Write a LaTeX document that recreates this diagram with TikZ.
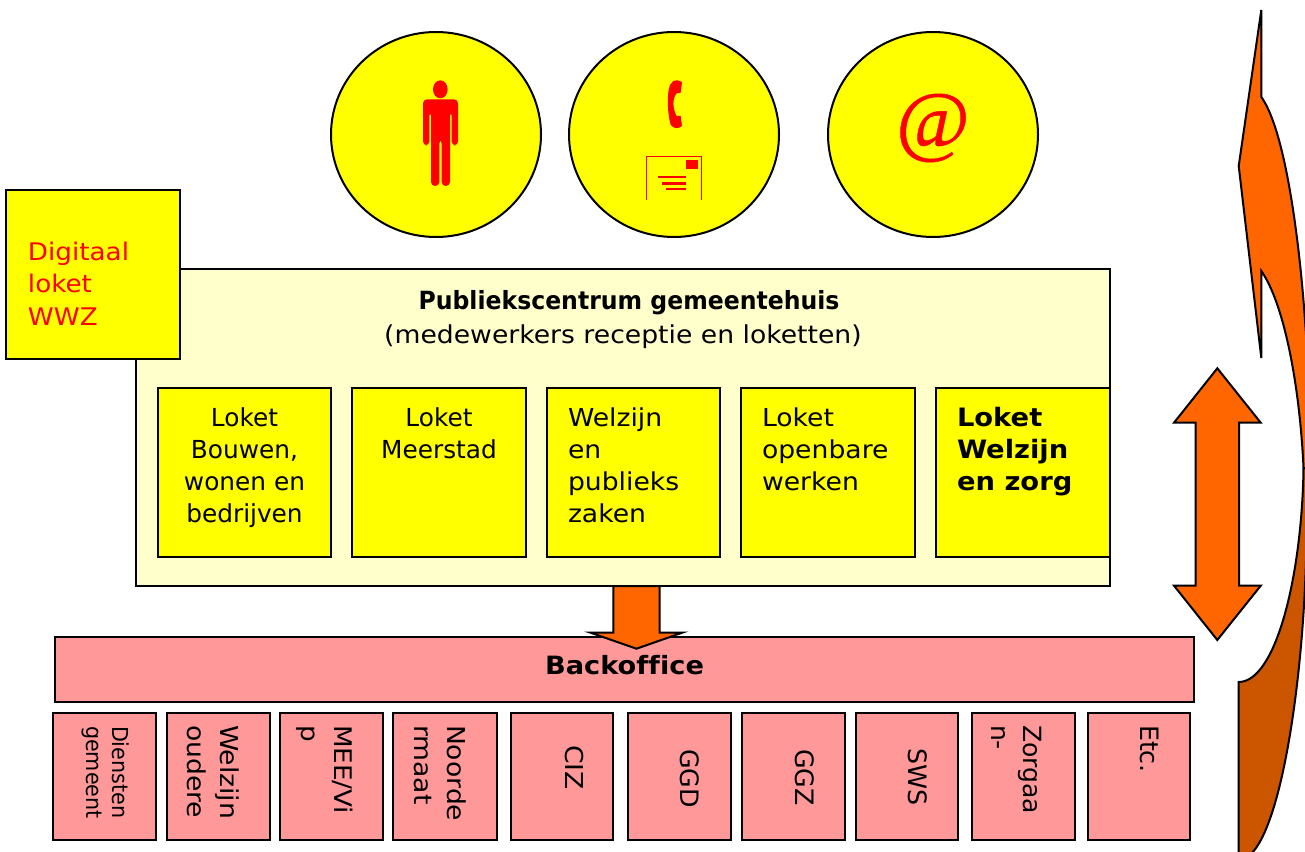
\documentclass[tikz,border=0pt]{standalone}
\usepackage{fontspec}
\setmainfont[FakeStretch=1.08,Ligatures=NoCommon]{DejaVu Sans}
\newfontfamily\nar[Ligatures=NoCommon]{DejaVu Sans}
\newfontfamily\cnd[FakeStretch=0.94,Ligatures=NoCommon]{DejaVu Sans}
\newfontfamily\serifat[FakeBold=0.6]{Liberation Serif}
\usetikzlibrary{shapes.geometric}
\definecolor{orng}{HTML}{FF6600}
\definecolor{dorng}{HTML}{CC5500}
\definecolor{pinkb}{HTML}{FF9999}
\definecolor{creamb}{HTML}{FFFFCC}
\definecolor{yelb}{HTML}{FFFF00}
\tikzset{
  line/.style={draw=black,line width=1.5pt},
  boxn/.style={line,rectangle,inner sep=0pt,outer sep=0pt,anchor=center},
  yb/.style={boxn,fill=yelb},
  pb/.style={boxn,fill=pinkb},
  cb/.style={boxn,fill=creamb},
  circ/.style={line,ellipse,fill=yelb,inner sep=0pt,minimum width=157.5pt,minimum height=153.75pt},
  block/.style={line,fill=orng,line join=miter},
}
\newcommand\fnt[2]{\fontsize{#1}{#2}\selectfont}
\newcommand\lf[1]{\raggedright\leftskip=\dimexpr#1pt*3/4\relax}
\newcommand\ce{\centering}
% #1 style #2 name #3 x1 #4 y1 #5 x2 #6 y2 #7 setup #8 first baseline px #9 text
\newcommand\tbox[9]{%
  \pgfmathsetlengthmacro{\bw}{(#5-#3)*0.75pt}%
  \pgfmathsetlengthmacro{\bh}{(#6-#4)*0.75pt}%
  \pgfmathsetmacro{\cx}{(#3+#5)/2}%
  \pgfmathsetmacro{\cy}{(#4+#6)/2}%
  \node[#1] (#2) at (\cx,\cy) {\parbox[c][\bh][t]{\bw}{#7\vspace*{\dimexpr#8pt*3/4-\ht\strutbox\relax}\strut #9\par}};%
}
\newcommand\rbox[9]{%
  \pgfmathsetlengthmacro{\bw}{(#6-#4)*0.75pt}%
  \pgfmathsetlengthmacro{\bh}{(#5-#3)*0.75pt}%
  \pgfmathsetmacro{\cx}{(#3+#5)/2}%
  \pgfmathsetmacro{\cy}{(#4+#6)/2}%
  \node[#1,rotate=-90] (#2) at (\cx,\cy) {\parbox[c][\bh][t]{\bw}{#7\vspace*{\dimexpr#8pt*3/4-\ht\strutbox\relax}\strut #9\par}};%
}
\begin{document}
\begin{tikzpicture}[x=0.75pt,y=-0.75pt]
\useasboundingbox (0,0) rectangle (1305,852);
\begin{scope}
\clip (0,0) rectangle (1305,852);
% curved arrow
\path[line,fill=dorng] (1238.7,870) -- (1238.7,682) .. controls (1276,682) and (1302,575) .. (1303.5,468) -- (1312,468) -- (1312,560) -- (1306,560) .. controls (1302,700) and (1276,860) .. (1238.7,860) -- cycle;
\path[line,fill=orng,line join=miter] (1261.3,10) -- (1261.3,97) .. controls (1285,130) and (1300,240) .. (1306,335) -- (1312,335) -- (1312,468) -- (1303.5,468) .. controls (1300,390) and (1285,305) .. (1261.3,271) -- (1261.3,358) -- (1238.7,166) -- cycle;
\end{scope}
% circles
\node[circ] (c1) at (436,134.5) {};
\node[circ] (c2) at (674,134.5) {};
\node[circ] (c3) at (933,134.5) {};
% person
\begin{scope}[shift={(330,30)},x=0.25pt,y=-0.25pt]
\fill[red] (331,178) ellipse (22 and 27);
\fill[red,rounded corners=3pt] (279,346) -- (279,208) -- (384,208) -- (384,346) -- (365,346) -- (365,245) -- (360,245) -- (360,468) -- (335,468) -- (335,328) -- (328,328) -- (328,468) -- (303,468) -- (303,245) -- (298,245) -- (298,346) -- cycle;
% phone
\fill[red] (1030,153) .. controls (1040,150) and (1050,151) .. (1056,156) -- (1052,188) .. controls (1048,190) and (1044,190) .. (1040,190) .. controls (1027,205) and (1027,235) .. (1040,258) -- (1052,258) -- (1056,288) .. controls (1048,296) and (1032,298) .. (1022,285) .. controls (1012,250) and (1010,190) .. (1020,165) -- cycle;
% envelope
\draw[red,line width=1.2pt] (949,509) -- (949,380) -- (1115,380) -- (1115,509);
\fill[red] (1068,390) rectangle (1104,417);
\fill[red] (984,437) rectangle (1068,445);
\fill[red] (996,456) rectangle (1068,464);
\fill[red] (1007,473) rectangle (1068,481);
\end{scope}
\node[text=red,inner sep=0pt,font=\serifat\fontsize{60}{60}\selectfont] (atsign) at (933,128) {@};
% publiekscentrum
\tbox{cb}{pub}{136}{269}{1110}{586}{\fnt{18.5}{25.5}\centering}{40}{\hspace*{9pt}{\cnd\fontsize{18.8}{25.5}\selectfont\bfseries Publiekscentrum gemeentehuis}\\(medewerkers receptie en loketten)}
\tbox{yb}{dig}{6}{190}{180}{359}{\fnt{18.2}{24.5}\color{red}\lf{22}}{70}{Digitaal\\loket\\WWZ}
\tbox{yb}{l1}{158}{388}{331}{557}{\nar\fnt{18.6}{24}\ce}{38}{Loket\\Bouwen,\\wonen en\\bedrijven}
\tbox{yb}{l2}{352}{388}{526}{557}{\nar\fnt{18.6}{24}\ce}{38}{Loket\\Meerstad}
\tbox{yb}{l3}{547}{388}{720}{557}{\fnt{18.5}{24}\lf{21}}{38}{Welzijn\\en\\publieks\\zaken}
\tbox{yb}{l4}{741}{388}{915}{557}{\fnt{18.5}{24}\lf{21}}{38}{Loket\\openbare\\werken}
\tbox{yb}{l5}{936}{388}{1110}{557}{\fnt{19}{24}\lf{21}\bfseries}{38}{Loket\\Welzijn\\en zorg}
% backoffice
\tbox{pb}{bo}{55}{637}{1194}{702}{\fnt{18.9}{24}\ce\bfseries}{37}{Backoffice}
% down arrow
\draw[block] (613.3,586) -- (613.3,632.5) -- (590,632.5) -- (636.5,648.7) -- (682.7,632.5) -- (659.5,632.5) -- (659.5,586) -- cycle;
% double arrow
\draw[block] (1217.3,368.3) -- (1260.7,422.7) -- (1239,422.7) -- (1239,585.7) -- (1260.7,585.7) -- (1217.3,640) -- (1174,585.7) -- (1195.7,585.7) -- (1195.7,422.7) -- (1174,422.7) -- cycle;
% bottom boxes
\rbox{pb}{b1}{53}{713}{156}{840}{\cnd\fnt{16.5}{19.3}\lf{13}}{44}{Diensten\\gemeent}
\rbox{pb}{b2}{167}{713}{270}{840}{\fnt{18.5}{24.5}\lf{12}}{50}{Welzijn\\oudere}
\rbox{pb}{b3}{280}{713}{383}{840}{\fnt{18.2}{24.5}\lf{12}}{49}{MEE/Vi\\p}
\rbox{pb}{b4}{393}{713}{497}{840}{\fnt{18.5}{24.5}\lf{12}}{50}{Noorde\\rmaat}
\rbox{pb}{b5}{511}{713}{613}{840}{\fnt{18.5}{24}\lf{32}}{48}{CIZ}
\rbox{pb}{b6}{628}{713}{731}{840}{\nar\fnt{19}{24}\lf{36}}{51}{GGD}
\rbox{pb}{b7}{742}{713}{845}{840}{\nar\fnt{19}{24}\lf{36}}{50}{GGZ}
\rbox{pb}{b8}{856}{713}{958}{840}{\nar\fnt{19}{24}\lf{35}}{50}{SWS}
\rbox{pb}{b9}{972}{713}{1075}{840}{\nar\fnt{18.8}{24}\lf{12}}{52}{Zorgaa\\n-}
\rbox{pb}{b10}{1088}{713}{1190}{840}{\nar\fnt{19}{24}\lf{12}}{50}{Etc.}
\end{tikzpicture}
\end{document}
